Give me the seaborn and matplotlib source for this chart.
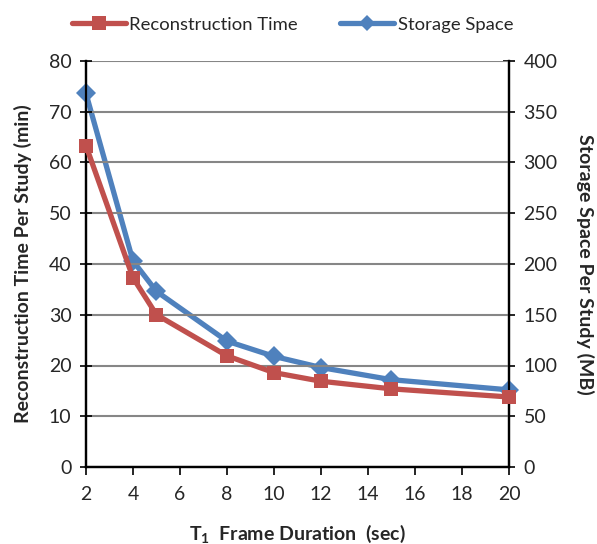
import matplotlib
matplotlib.use("Agg")
import matplotlib.pyplot as plt
from matplotlib.lines import Line2D
import seaborn as sns
import pandas as pd

# Frame durations and the two measured series
frame_duration = [2, 4, 5, 8, 10, 12, 15, 20]
recon_time_min = [63.3, 37.3, 30.0, 21.9, 18.6, 16.9, 15.4, 13.8]
storage_mb = [368, 203, 173, 124, 109, 98, 86, 76]

x_ticks = [2, 4, 6, 8, 10, 12, 14, 16, 18, 20]
left_ticks = [0, 10, 20, 30, 40, 50, 60, 70, 80]
right_ticks = [0, 50, 100, 150, 200, 250, 300, 350, 400]

RED = "#C0504D"
BLUE = "#4F81BD"

sns.set_theme(style="white")
plt.rcParams["font.family"] = ["Lato", "DejaVu Sans"]
plt.rcParams["mathtext.fontset"] = "custom"
plt.rcParams["mathtext.bf"] = "Lato:bold"
plt.rcParams["mathtext.rm"] = "Lato"

df = pd.DataFrame({"duration": frame_duration,
                   "recon": recon_time_min,
                   "storage": storage_mb})

fig = plt.figure(figsize=(5.97, 5.44), dpi=100)
ax = fig.add_axes([0.144, 0.1415, 0.7086, 0.7465])
ax2 = ax.twinx()

sns.lineplot(data=df, x="duration", y="storage", ax=ax2, color=BLUE,
             linewidth=3.8, marker="D", markersize=10, markeredgewidth=0,
             zorder=3, clip_on=False)
sns.lineplot(data=df, x="duration", y="recon", ax=ax, color=RED,
             linewidth=3.8, marker="s", markersize=10, markeredgewidth=0,
             zorder=3, clip_on=False)

# keep the red series drawn above the blue one
ax.set_zorder(ax2.get_zorder() + 1)
ax.patch.set_visible(False)

ax.set_xlim(2, 20)
ax.set_ylim(0, 80)
ax2.set_ylim(0, 400)
ax.set_xticks(x_ticks)
ax.set_yticks(left_ticks)
ax2.set_yticks(right_ticks)

ax.yaxis.grid(True, color="#868686", linewidth=1.5)
ax.xaxis.grid(False)
ax2.grid(False)

for a in (ax, ax2):
    a.spines["top"].set_visible(False)
    for side in ("left", "right", "bottom"):
        a.spines[side].set_color("black")
        a.spines[side].set_linewidth(1.6)

ax.tick_params(axis="x", direction="out", length=6, width=1.2,
               color="black", labelsize=14, pad=8, bottom=True)
ax.tick_params(axis="y", direction="inout", length=9, width=1.2,
               color="black", labelsize=14, pad=6, left=True)
ax2.tick_params(axis="y", direction="inout", length=9, width=1.2,
                color="black", labelsize=14, pad=6, right=True)

ax.set_xlabel(r"$\mathbf{T_1}$  Frame Duration  (sec)", fontsize=14,
              fontweight="bold", labelpad=14)
ax.set_ylabel("Reconstruction Time Per Study (min)", fontsize=14,
              fontweight="bold", labelpad=12)
ax2.set_ylabel("Storage Space Per Study (MB)", fontsize=14,
               fontweight="bold", rotation=270, labelpad=26)

handles = [
    Line2D([], [], color=RED, linewidth=3.8, marker="s", markersize=10,
           markeredgewidth=0),
    Line2D([], [], color=BLUE, linewidth=3.8, marker="D", markersize=8.5,
           markeredgewidth=0),
]
fig.legend(handles, ["Reconstruction Time", "Storage Space"],
           loc="upper center", bbox_to_anchor=(0.49, 1.0), ncol=2,
           frameon=False, fontsize=13.3, handlelength=2.9, handletextpad=0.2,
           columnspacing=2.3)

fig.savefig("out.png", dpi=100)
